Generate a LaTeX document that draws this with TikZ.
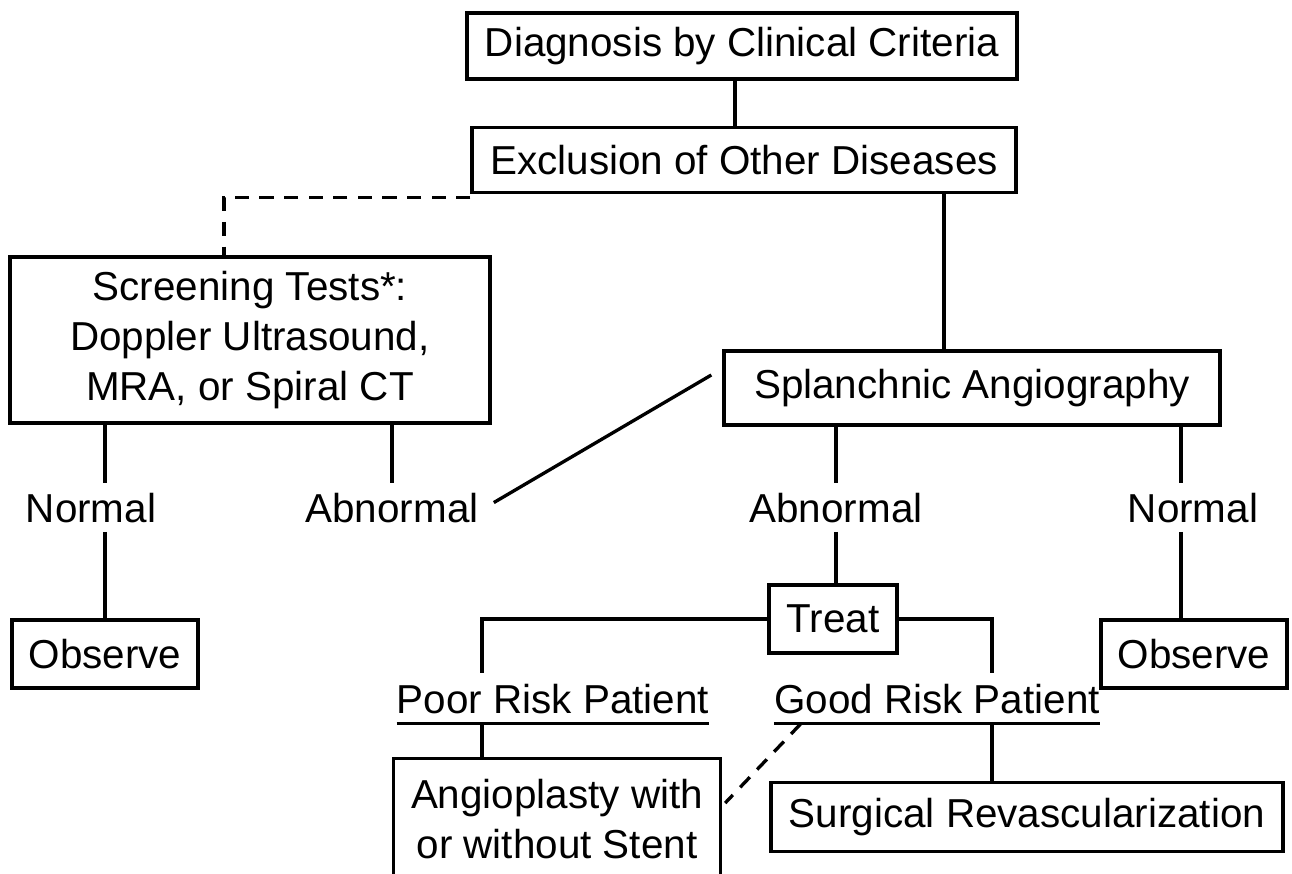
\documentclass[tikz,border=0pt]{standalone}
\usepackage{fontspec}
\setmainfont{Liberation Sans}
\usetikzlibrary{calc}

\newcommand\pxu{0.02cm}

\begin{document}
\begin{tikzpicture}[x=\pxu,y=-\pxu,font=\fontsize{23}{28.5}\selectfont,
    box/.style={draw,line width=1.9pt,inner sep=0pt,align=center},
    sz/.style 2 args={minimum width=#1*\pxu,minimum height=#2*\pxu},
    lbl/.style={inner xsep=0pt,inner ysep=9*\pxu,anchor=base},
    ulbl/.style={inner xsep=0pt,inner ysep=10*\pxu,anchor=base},
    link/.style={line width=1.9pt},
    dlink/.style={line width=1.9pt,dash pattern=on 8pt off 6pt}]
    \useasboundingbox (0,0) rectangle (1292,873);
    \node[box,sz={550}{66}] (diag) at (742,46) {Diagnosis by Clinical Criteria};
    \node[box,sz={544}{65}] (excl) at (744,160) {Exclusion of Other Diseases};
    \node[box,sz={480}{166}] (screen) at (250,340) {Screening Tests*:\\Doppler Ultrasound,\\MRA, or Spiral CT};
    \node[box,sz={496}{74}] (splanch) at (972,388) {Splanchnic Angiography};
    \node[box,sz={186}{68}] (obsL) at (105,654) {Observe};
    \node[box,sz={186}{68}] (obsR) at (1194,654) {Observe};
    \node[box,sz={128}{68}] (treat) at (833,619) {Treat};
    \node[box,sz={327}{121}] (angio) at (557,819) {Angioplasty with\\or without Stent};
    \node[box,sz={512}{69}] (surg) at (1027,817) {Surgical Revascularization};
    \node[lbl] (normL) at (91,522) {Normal};
    \node[lbl] (abnL) at (392,522) {Abnormal};
    \node[lbl] (abnR) at (836,522) {Abnormal};
    \node[lbl] (normR) at (1193,522) {Normal};
    \node[ulbl] (poor) at (553,713) {Poor Risk Patient};
    \node[ulbl] (good) at (937,713) {Good Risk Patient};
    \coordinate (dx) at (735,0);
    \coordinate (sx) at (944,0);
    \coordinate (kx) at (224,0);
    \coordinate (rx) at (1181,0);
    \coordinate (px) at (482,0);
    \coordinate (gx) at (992,0);
    \draw[link] (diag.south -| dx) -- (excl.north -| dx);
    \draw[dlink] ([yshift=-2pt]excl.south west) -| (kx |- screen.north);
    \draw[link] (excl.south -| sx) -- (splanch.north -| sx);
    \draw[link] (screen.south -| obsL) -- (obsL |- normL.north);
    \draw[link] (obsL |- normL.south) -- (obsL.north);
    \draw[link] (screen.south -| abnL) -- (abnL.north);
    \draw[link] ($(abnL.east)+(15,-5)$) -- ($(splanch.west)+(-11,-13)$);
    \draw[link] (splanch.south -| abnR) -- (abnR.north);
    \draw[link] (abnR.south) -- (treat.north -| abnR);
    \draw[link] (splanch.south -| rx) -- (rx |- normR.north);
    \draw[link] (rx |- normR.south) -- (rx |- obsR.north);
    \draw[link] (treat.west) -| (px |- poor.north);
    \draw[link] (treat.east) -| (gx |- good.north);
    \draw[link] (poor.south west) -- (poor.south east);
    \draw[link] (good.south west) -- (good.south east);
    \draw[link] (px |- poor.south) -- (px |- angio.north);
    \draw[link] (gx |- good.south) -- (gx |- surg.north);
    \draw[dlink] ($(good.south west)+(27,0)$) -- ($(angio.east)+(3,-16)$);
\end{tikzpicture}
\end{document}
